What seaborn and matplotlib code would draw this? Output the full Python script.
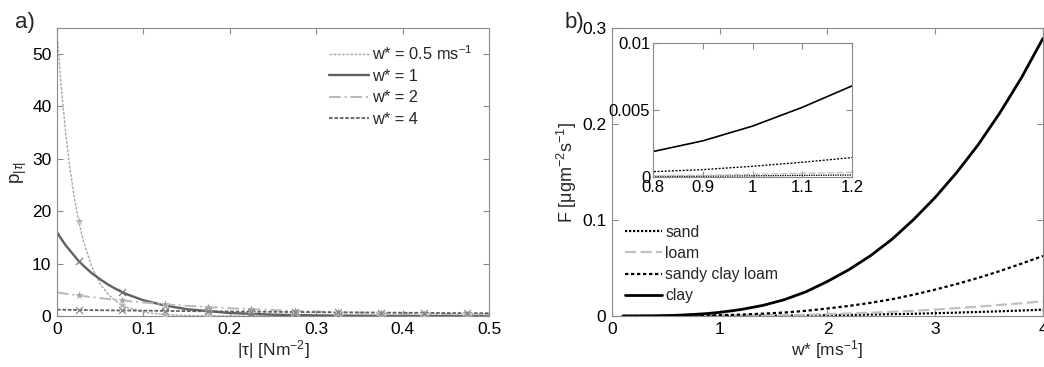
import numpy as np
import pandas as pd
import matplotlib
matplotlib.use("Agg")
import matplotlib.pyplot as plt
import seaborn as sns
from matplotlib.ticker import FuncFormatter

# panel a) data: p_|tau| against |tau|
tau = [0, 0.005, 0.01, 0.015, 0.02, 0.025, 0.03, 0.04, 0.05, 0.06, 0.07, 0.08,
       0.1, 0.125, 0.15, 0.2, 0.25, 0.3, 0.35, 0.4, 0.45, 0.5]
p_w05 = [54, 43.5, 35.0, 28.1, 22.6, 18.2, 14.6, 9.5, 6.1, 4.0, 2.6, 1.7,
         0.7, 0.24, 0.08, 0.01, 0, 0, 0, 0, 0, 0]
p_w1 = [16, 14.7, 13.5, 12.5, 11.5, 10.5, 9.7, 8.2, 7.0, 5.9, 5.0, 4.2,
        3.0, 2.0, 1.3, 0.57, 0.25, 0.11, 0.05, 0.02, 0.01, 0]
p_w2 = [4.5, 4.38, 4.26, 4.14, 4.03, 3.92, 3.81, 3.6, 3.41, 3.22, 3.05, 2.88,
        2.58, 2.24, 1.95, 1.48, 1.12, 0.85, 0.64, 0.49, 0.37, 0.28]
p_w4 = [1.2, 1.19, 1.18, 1.17, 1.16, 1.15, 1.14, 1.12, 1.10, 1.08, 1.06, 1.05,
        1.02, 0.97, 0.93, 0.86, 0.79, 0.73, 0.67, 0.62, 0.57, 0.52]

# bin-centre points drawn as markers
tau_mk = [0.025, 0.075, 0.125, 0.175, 0.225, 0.275, 0.325, 0.375, 0.425, 0.475]
mk_w05 = [18.2, 2.1, 0.25, 0.03, 0, 0, 0, 0, 0, 0]
mk_w1 = [10.5, 4.6, 2.0, 0.87, 0.38, 0.16, 0.07, 0.03, 0.01, 0.0]
mk_w2 = [3.92, 2.97, 2.24, 1.7, 1.29, 0.98, 0.74, 0.56, 0.42, 0.32]
mk_w4 = [1.15, 1.06, 0.97, 0.90, 0.82, 0.76, 0.70, 0.64, 0.59, 0.54]

# panel b) data: dust flux F against w*
wstar = [0.1, 0.2, 0.4, 0.6, 0.8, 0.9, 1.0, 1.1, 1.2, 1.4, 1.6, 1.8, 2.0,
         2.2, 2.4, 2.6, 2.8, 3.0, 3.2, 3.4, 3.6, 3.8, 4.0]
F_clay = [0, 0.00002, 0.0002, 0.0007, 0.0019, 0.0027, 0.0038, 0.0052, 0.0068,
          0.0110, 0.0170, 0.0252, 0.036, 0.0483, 0.0628, 0.080, 0.1005, 0.1235,
          0.1495, 0.1785, 0.2115, 0.248, 0.289]
F_scl = [0, 0.00001, 0.00005, 0.00016, 0.0004, 0.00055, 0.0008, 0.0011, 0.00145,
         0.0024, 0.0036, 0.0054, 0.0078, 0.0105, 0.0137, 0.0175, 0.0222, 0.0275,
         0.0333, 0.0397, 0.0468, 0.0545, 0.0625]
F_loam = [0, 0, 0.00001, 0.00004, 0.0001, 0.00013, 0.0002, 0.00027, 0.00035,
          0.0006, 0.0009, 0.0013, 0.0019, 0.0026, 0.0034, 0.0043, 0.0054, 0.0067,
          0.0082, 0.0097, 0.0115, 0.0133, 0.0153]
F_sand = [0, 0, 0, 0.00002, 0.00004, 0.00006, 0.00009, 0.00012, 0.00015,
          0.00026, 0.00039, 0.00056, 0.0008, 0.0011, 0.0015, 0.0019, 0.0023,
          0.0029, 0.0035, 0.0042, 0.0049, 0.0057, 0.0066]

sns.set_style("ticks")
plt.rcParams["font.family"] = ["Liberation Sans", "DejaVu Sans"]
plt.rcParams["mathtext.fontset"] = "custom"
plt.rcParams["mathtext.rm"] = "Liberation Sans"
plt.rcParams["mathtext.it"] = "Liberation Sans:italic"
plt.rcParams["font.size"] = 12.5

fig = plt.figure(figsize=(10.44, 3.67), dpi=100)
ax1 = fig.add_axes([0.0546, 0.139, 0.4138, 0.785])
ax2 = fig.add_axes([0.5862, 0.139, 0.4128, 0.785])
ax3 = fig.add_axes([0.6255, 0.5177, 0.1906, 0.365])

def matlab_axes(ax, size=12.5):
    for s in ax.spines.values():
        s.set_color("#8a8a8a")
        s.set_linewidth(0.8)
    ax.tick_params(direction="in", top=True, right=True, length=4,
                   color="#8a8a8a", labelcolor="black", labelsize=size, pad=4)
    ax.xaxis.set_major_formatter(FuncFormatter(lambda v, p: "%g" % round(v, 6)))
    ax.yaxis.set_major_formatter(FuncFormatter(lambda v, p: "%g" % round(v, 6)))

# ---- panel a
dfa = pd.DataFrame({"tau": tau, "w05": p_w05, "w1": p_w1, "w2": p_w2, "w4": p_w4})
sns.lineplot(data=dfa, x="tau", y="w05", ax=ax1, color="#a8a8a8", lw=1.0,
             linestyle=(0, (2, 1)), label="w* = 0.5 ms$^{-1}$")
sns.lineplot(data=dfa, x="tau", y="w1", ax=ax1, color="#606060", lw=1.7,
             label="w* = 1")
sns.lineplot(data=dfa, x="tau", y="w2", ax=ax1, color="#b8b8b8", lw=1.4,
             linestyle=(0, (6, 2, 1, 2)), label="w* = 2")
sns.lineplot(data=dfa, x="tau", y="w4", ax=ax1, color="#606060", lw=1.3,
             linestyle=(0, (2, 1)), label="w* = 4")
sns.scatterplot(x=tau_mk, y=mk_w05, ax=ax1, marker="*", color="#b0b0b0", s=50,
                linewidth=0.3, zorder=3)
sns.scatterplot(x=tau_mk, y=mk_w1, ax=ax1, marker="x", color="#707070", s=25,
                linewidth=0.8, zorder=3)
sns.scatterplot(x=tau_mk, y=mk_w2, ax=ax1, marker="*", color="#a0a0a0", s=50,
                linewidth=0.3, zorder=3)
sns.scatterplot(x=tau_mk, y=mk_w4, ax=ax1, marker="x", color="#808080", s=25,
                linewidth=0.8, zorder=3)
ax1.set_xlim(0, 0.5)
ax1.set_ylim(0, 55)
ax1.set_yticks([0, 10, 20, 30, 40, 50])
ax1.set_xticks([0, 0.1, 0.2, 0.3, 0.4, 0.5])
ax1.set_xlabel("|τ| [Nm$^{-2}$]", fontsize=12.5, labelpad=1)
ax1.set_ylabel("p$_{|τ|}$", fontsize=13.5, labelpad=2)
matlab_axes(ax1)
ax1.legend(loc="upper right", frameon=False, handlelength=2.4, handletextpad=0.2,
           labelspacing=0.38, fontsize=11.8, borderaxespad=0.6)
fig.text(0.014, 0.925, "a)", fontsize=16)

# ---- panel b
dfb = pd.DataFrame({"w": wstar, "sand": F_sand, "loam": F_loam,
                    "scl": F_scl, "clay": F_clay})
for ax, lw_scale in [(ax2, 1.0), (ax3, 0.6)]:
    sns.lineplot(data=dfb, x="w", y="sand", ax=ax, color="black", lw=1.6 * lw_scale,
                 linestyle=(0, (1, 0.8)), label="sand")
    sns.lineplot(data=dfb, x="w", y="loam", ax=ax, color="#c0c0c0", lw=1.6 * lw_scale,
                 linestyle=(0, (5, 2)), label="loam")
    sns.lineplot(data=dfb, x="w", y="scl", ax=ax, color="black", lw=1.6 * lw_scale,
                 linestyle=(0, (1.5, 1.2)), label="sandy clay loam")
    sns.lineplot(data=dfb, x="w", y="clay", ax=ax, color="black", lw=2.0 * lw_scale,
                 label="clay")

matlab_axes(ax2)
matlab_axes(ax3, size=12)
ax2.set_xlim(0, 4)
ax2.set_ylim(0, 0.3)
ax2.set_xticks([0, 1, 2, 3, 4])
ax2.set_yticks([0, 0.1, 0.2, 0.3])
ax2.set_xlabel("w* [ms$^{-1}$]", fontsize=12.5, labelpad=1)
ax2.set_ylabel("F [μgm$^{-2}$s$^{-1}$]", fontsize=13, labelpad=2)
ax2.legend(loc="lower left", frameon=False, handlelength=2.4, handletextpad=0.2,
           labelspacing=0.4, fontsize=11.3, borderaxespad=0.4)

ax3.set_xlim(0.8, 1.2)
ax3.set_ylim(0, 0.01)
ax3.set_xticks([0.8, 0.9, 1.0, 1.1, 1.2])
ax3.set_yticks([0, 0.005, 0.01])
ax3.set_xlabel("")
ax3.set_ylabel("")
ax3.get_legend().remove()
ax3.tick_params(pad=2)
fig.text(0.541, 0.925, "b)", fontsize=16)

fig.savefig("out.png", dpi=100)
